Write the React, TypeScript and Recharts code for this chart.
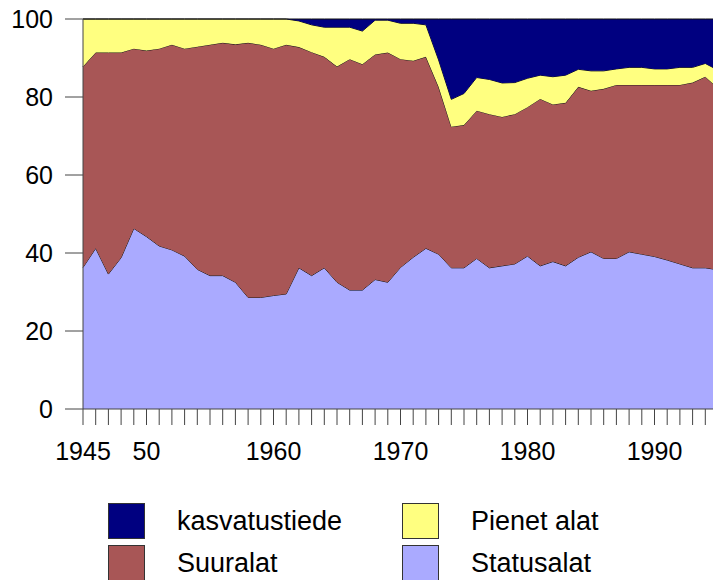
import React from 'react';
import { AreaChart, Area, XAxis, YAxis } from 'recharts';

// Years on the category axis
const years = [
  1945, 1946, 1947, 1948, 1949, 1950, 1951, 1952, 1953, 1954,
  1955, 1956, 1957, 1958, 1959, 1960, 1961, 1962, 1963, 1964,
  1965, 1966, 1967, 1968, 1969, 1970, 1971, 1972, 1973, 1974,
  1975, 1976, 1977, 1978, 1979, 1980, 1981, 1982, 1983, 1984,
  1985, 1986, 1987, 1988, 1989, 1990, 1991, 1992, 1993, 1994, 1995,
];

// Shares (%) per group, bottom to top of the stack
const statusalat = [
  36.3, 41.2, 34.6, 38.8, 46.3, 44.2, 41.8, 40.8, 39.2, 35.8,
  34.2, 34.2, 32.5, 28.6, 28.6, 29.1, 29.5, 36.2, 34.2, 36.2,
  32.5, 30.5, 30.5, 33.2, 32.5, 36.3, 38.9, 41.2, 39.7, 36.2,
  36.2, 38.6, 36.2, 36.7, 37.2, 39.2, 36.7, 37.8, 36.7, 38.9,
  40.3, 38.6, 38.6, 40.3, 39.7, 39.1, 38.2, 37.2, 36.2, 36.2, 35.7,
];
const suuralat = [
  51.5, 50.2, 56.8, 52.6, 46.1, 47.7, 50.6, 52.6, 53.2, 57.1,
  59.2, 59.7, 61.0, 65.3, 64.8, 63.3, 63.9, 56.6, 57.3, 54.1,
  55.3, 59.2, 57.9, 57.7, 58.9, 53.4, 50.4, 49.1, 42.9, 36.2,
  36.6, 37.9, 39.4, 38.2, 38.4, 38.2, 42.8, 40.3, 41.8, 43.7,
  41.3, 43.5, 44.5, 42.8, 43.4, 44.0, 44.9, 45.9, 47.5, 49.0, 46.5,
];
const pienetAlat = [
  12.2, 8.6, 8.6, 8.6, 7.6, 8.1, 7.6, 6.6, 7.6, 7.1,
  6.6, 6.1, 6.5, 6.1, 6.6, 7.6, 6.6, 6.7, 7.0, 7.6,
  10.1, 8.2, 8.5, 8.8, 8.3, 9.2, 9.6, 8.2, 6.9, 7.0,
  8.1, 8.5, 8.9, 8.7, 8.1, 7.4, 6.1, 7.1, 7.1, 4.5,
  5.1, 4.6, 4.1, 4.5, 4.5, 4.1, 4.1, 4.5, 3.9, 3.4, 4.7,
];
const kasvatustiede = [
  0, 0, 0, 0, 0, 0, 0, 0, 0, 0,
  0, 0, 0, 0, 0, 0, 0, 0.5, 1.5, 2.1,
  2.1, 2.1, 3.1, 0.3, 0.3, 1.1, 1.1, 1.5, 10.5, 20.6,
  19.1, 15.0, 15.5, 16.4, 16.3, 15.2, 14.4, 14.8, 14.4, 12.9,
  13.3, 13.3, 12.8, 12.4, 12.4, 12.8, 12.8, 12.4, 12.4, 11.4, 13.1,
];

// Labelled years and their text
const labelYears = [1945, 1950, 1960, 1970, 1980, 1990];
const labelTexts = ['1945', '50', '1960', '1970', '1980', '1990'];
const yTicks = [0, 20, 40, 60, 80, 100];

const data = years.map((year, i) => ({
  year,
  statusalat: statusalat[i],
  suuralat: suuralat[i],
  pienetAlat: pienetAlat[i],
  kasvatustiede: kasvatustiede[i],
}));

const series = [
  { key: 'statusalat', name: 'Statusalat', color: '#AAAAFF' },
  { key: 'suuralat', name: 'Suuralat', color: '#A85656' },
  { key: 'pienetAlat', name: 'Pienet alat', color: '#FFFF80' },
  { key: 'kasvatustiede', name: 'kasvatustiede', color: '#000080' },
];

// legend grid: [series key, left, top]
const legendItems: [string, number, number][] = [
  ['kasvatustiede', 108, 503],
  ['pienetAlat', 402, 503],
  ['suuralat', 108, 545],
  ['statusalat', 402, 545],
];

const font = '"Liberation Sans", Arial, sans-serif';

const formatYear = (v: number) => {
  const idx = labelYears.indexOf(v);
  return idx >= 0 ? labelTexts[idx] : '';
};

const App: React.FC = () => {
  return (
    <div
      style={{
        position: 'absolute',
        left: 0,
        top: 0,
        width: 713,
        height: 580,
        overflow: 'hidden',
        background: '#fff',
        fontFamily: font,
      }}
    >
      <AreaChart
        width={730}
        height={480}
        data={data}
        margin={{ top: 19, right: 12, left: 0, bottom: 0 }}
      >
        <XAxis
          dataKey="year"
          type="number"
          domain={[1945, 1995]}
          ticks={years}
          interval={0}
          tickFormatter={formatYear}
          tickSize={16}
          tickMargin={17}
          height={71}
          stroke="#444"
          tick={{ fill: '#000', fontSize: 25, fontFamily: font }}
        />
        <YAxis
          type="number"
          domain={[0, 100]}
          ticks={yTicks}
          width={83}
          tickSize={18}
          tickMargin={12}
          stroke="#444"
          tick={{ fill: '#000', fontSize: 25, fontFamily: font }}
        />
        {series.map(s => (
          <Area
            key={s.key}
            type="linear"
            dataKey={s.key}
            name={s.name}
            stackId="1"
            fill={s.color}
            fillOpacity={1}
            stroke="#111"
            strokeWidth={1}
            isAnimationActive={false}
          />
        ))}
      </AreaChart>

      {legendItems.map(([key, left, top]) => {
        const s = series.find(x => x.key === key)!;
        return (
          <div
            key={key}
            style={{ position: 'absolute', left, top, height: 36, display: 'flex', alignItems: 'center' }}
          >
            <div
              style={{
                width: 37,
                height: 36,
                boxSizing: 'border-box',
                border: '1px solid #333',
                background: s.color,
              }}
            />
            <span style={{ marginLeft: 32, fontSize: 27, lineHeight: 1, color: '#000', whiteSpace: 'nowrap' }}>
              {s.name}
            </span>
          </div>
        );
      })}
    </div>
  );
};

export default App;
